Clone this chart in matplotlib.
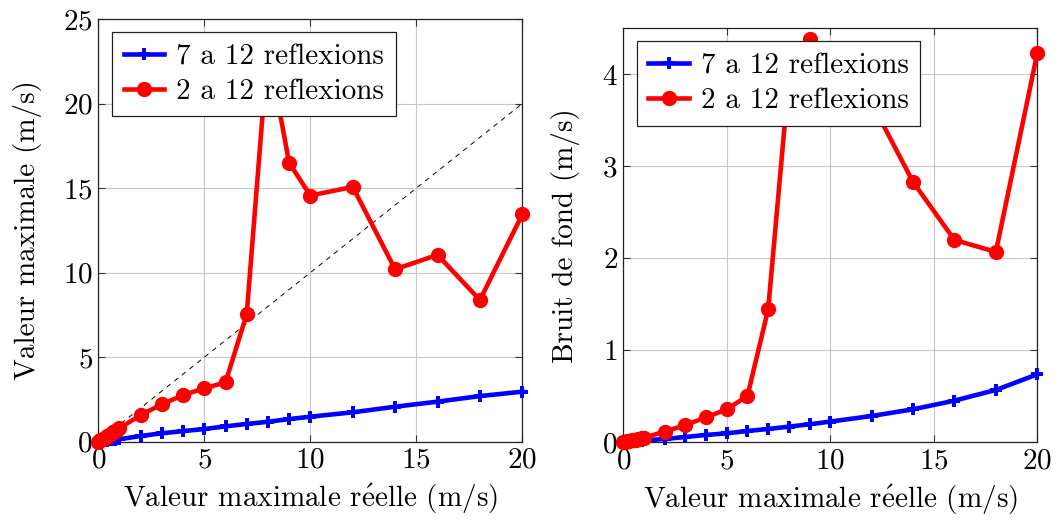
import matplotlib
matplotlib.use("Agg")
import matplotlib.pyplot as plt

plt.rcParams['font.family'] = ['cmr10', 'DejaVu Serif']
plt.rcParams['mathtext.fontset'] = 'cm'
plt.rcParams['axes.formatter.use_mathtext'] = True

# ---- data ----
x_vals = [0, 0.1, 0.2, 0.3, 0.4, 0.5, 0.6, 0.7, 0.8, 0.9, 1,
          2, 3, 4, 5, 6, 7, 8, 9, 10, 12, 14, 16, 18, 20]

# left: valeur maximale
blue_max = [0, 0.015, 0.03, 0.045, 0.06, 0.075, 0.09, 0.105, 0.12, 0.135, 0.15,
            0.34, 0.50, 0.63, 0.75, 0.91, 1.05, 1.18, 1.34, 1.48, 1.74, 2.07, 2.37, 2.70, 2.96]
red_max = [0, 0.08, 0.16, 0.24, 0.32, 0.40, 0.48, 0.56, 0.64, 0.72, 0.80,
           1.58, 2.21, 2.76, 3.16, 3.51, 7.54, 23.3, 16.5, 14.56, 15.07, 10.2, 11.05, 8.38, 13.45]

# right: bruit de fond
blue_bruit = [0, 0.002, 0.004, 0.006, 0.008, 0.010, 0.012, 0.014, 0.016, 0.018, 0.020,
              0.036, 0.058, 0.080, 0.098, 0.123, 0.145, 0.170, 0.196, 0.225, 0.286, 0.359, 0.453, 0.569, 0.739]
red_bruit = [0, 0.005, 0.010, 0.015, 0.020, 0.025, 0.030, 0.035, 0.040, 0.045, 0.050,
             0.116, 0.188, 0.272, 0.359, 0.504, 1.446, 3.96, 4.38, 3.85, 3.69, 2.83, 2.20, 2.07, 4.23]

ref_x = [0, 20]
ref_y = [0, 20]

label_blue = "7 a 12 reflexions"
label_red = "2 a 12 reflexions"
xlabel = r"Valeur maximale r$\mathrm{\acute{e}}$elle (m/s)"
ylabel_left = "Valeur maximale (m/s)"
ylabel_right = "Bruit de fond (m/s)"

FS = 21

fig = plt.figure(figsize=(10.58, 5.24), dpi=100)
axL = fig.add_axes([0.0929, 0.157, 0.4008, 0.8067])
axR = fig.add_axes([0.5891, 0.1559, 0.3913, 0.790])

def style(ax, yticks, ylim):
    ax.set_xlim(0, 20)
    ax.set_ylim(*ylim)
    ax.set_xticks([0, 5, 10, 15, 20])
    ax.set_yticks(yticks)
    ax.grid(True, color='#c8c8c8', linewidth=0.8)
    ax.set_axisbelow(True)
    ax.tick_params(direction='in', top=True, right=True, length=5, width=0.8,
                   labelsize=FS, pad=4, color='#333333')
    for s in ax.spines.values():
        s.set_linewidth(0.9)
        s.set_color('#222222')
    ax.set_xlabel(xlabel, fontsize=FS, labelpad=6)

def legend(ax):
    leg = ax.legend(loc='upper left', fontsize=FS, frameon=True, fancybox=False,
                    edgecolor='#222222', framealpha=1, borderpad=0.4, handlelength=1.4,
                    handletextpad=0.4, labelspacing=0.28, borderaxespad=0,
                    bbox_to_anchor=(0.032, 0.969))
    leg.get_frame().set_linewidth(0.9)
    leg.set_zorder(10)

lw = 3.3
# Left
axL.plot(ref_x, ref_y, color='black', linestyle=(0, (5, 5)), linewidth=0.7)
axL.plot(x_vals, blue_max, color='blue', linewidth=lw, marker='P', markersize=9,
         markeredgewidth=0, label=label_blue, clip_on=False, zorder=3,
         solid_joinstyle='miter')
axL.plot(x_vals, red_max, color='red', linewidth=lw, marker='o', markersize=10,
         label=label_red, clip_on=False, zorder=4, solid_joinstyle='miter')
style(axL, [0, 5, 10, 15, 20, 25], (0, 25))
axL.set_ylabel(ylabel_left, fontsize=FS, labelpad=15)
legend(axL)

# Right
axR.plot(x_vals, blue_bruit, color='blue', linewidth=lw, marker='P', markersize=9,
         markeredgewidth=0, label=label_blue, clip_on=False, zorder=3,
         solid_joinstyle='miter')
axR.plot(x_vals, red_bruit, color='red', linewidth=lw, marker='o', markersize=10,
         label=label_red, clip_on=False, zorder=4, solid_joinstyle='miter')
style(axR, [0, 1, 2, 3, 4], (0, 4.5))
axR.set_ylabel(ylabel_right, fontsize=FS, labelpad=16)
legend(axR)

fig.savefig("out.png", dpi=100)
